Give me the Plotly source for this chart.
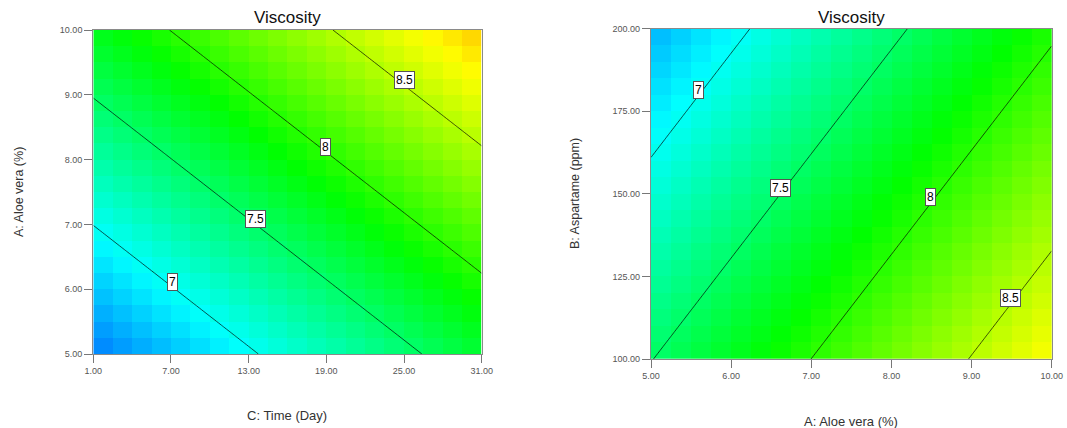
import numpy as np
import plotly.graph_objects as go

# Fitted viscosity model in coded factor units (-1 .. +1); the factor not shown
# on a panel is held at its centre point.
INTERCEPT = 7.725
COEF_ALOE = 0.636       # A: Aloe vera (%)
COEF_ASPARTAME = -0.403  # B: Aspartame (ppm)
COEF_TIME = 0.594       # C: Time (Day)

ALOE_RANGE = [5.0, 10.0]
ASPARTAME_RANGE = [100.0, 200.0]
TIME_RANGE = [1.0, 31.0]

CONTOUR_LEVELS = [7, 7.5, 8, 8.5]
# Where each level's label sits along the horizontal factor
LEFT_LABEL_TIME = [7.15, 13.5, 18.95, 25.0]
RIGHT_LABEL_ALOE = [5.59, 6.61, 8.49, 9.49]

TIME_TICKS = [1, 7, 13, 19, 25, 31]
ALOE_TICKS = [5, 6, 7, 8, 9, 10]
ASPARTAME_TICKS = [100, 125, 150, 175, 200]

GRID_CELLS = 20
COLOR_MIN, COLOR_MAX = 6.065, 9.652
COLORSCALE = [[0.0, "rgb(0,0,255)"], [0.25, "rgb(0,255,255)"],
              [0.5, "rgb(0,255,0)"], [0.75, "rgb(255,255,0)"],
              [1.0, "rgb(255,0,0)"]]

FONT = "Arial, Liberation Sans, sans-serif"


def coded(v, rng):
    lo, hi = rng
    return (np.asarray(v, dtype=float) - (lo + hi) / 2) / ((hi - lo) / 2)


def viscosity(aloe=None, aspartame=None, time=None):
    a = coded(aloe, ALOE_RANGE) if aloe is not None else 0.0
    b = coded(aspartame, ASPARTAME_RANGE) if aspartame is not None else 0.0
    c = coded(time, TIME_RANGE) if time is not None else 0.0
    return INTERCEPT + COEF_ALOE * a + COEF_ASPARTAME * b + COEF_TIME * c


def uncode(cv, rng):
    lo, hi = rng
    return (lo + hi) / 2 + cv * (hi - lo) / 2


def centres(rng, n):
    e = np.linspace(rng[0], rng[1], n + 1)
    return (e[:-1] + e[1:]) / 2


fig = go.Figure()

# ---- Left panel: Time (x) vs Aloe vera (y) ----
tc = centres(TIME_RANGE, GRID_CELLS)
ac = centres(ALOE_RANGE, GRID_CELLS)
TT, AA = np.meshgrid(tc, ac)
fig.add_trace(go.Heatmap(x=tc, y=ac, z=viscosity(aloe=AA, time=TT),
                         colorscale=COLORSCALE, zmin=COLOR_MIN, zmax=COLOR_MAX,
                         zsmooth=False, showscale=False, hoverinfo="skip",
                         xaxis="x", yaxis="y"))
tf = np.linspace(*TIME_RANGE, 61)
af = np.linspace(*ALOE_RANGE, 61)
TF, AF = np.meshgrid(tf, af)
fig.add_trace(go.Contour(x=tf, y=af, z=viscosity(aloe=AF, time=TF),
                         contours=dict(start=CONTOUR_LEVELS[0], end=CONTOUR_LEVELS[-1],
                                       size=0.5, coloring="none"),
                         line=dict(color="rgba(0,0,0,0.85)", width=0.8),
                         showscale=False, hoverinfo="skip", xaxis="x", yaxis="y"))

# ---- Right panel: Aloe vera (x) vs Aspartame (y) ----
ac2 = centres(ALOE_RANGE, GRID_CELLS)
bc = centres(ASPARTAME_RANGE, GRID_CELLS)
A2, B2 = np.meshgrid(ac2, bc)
fig.add_trace(go.Heatmap(x=ac2, y=bc, z=viscosity(aloe=A2, aspartame=B2),
                         colorscale=COLORSCALE, zmin=COLOR_MIN, zmax=COLOR_MAX,
                         zsmooth=False, showscale=False, hoverinfo="skip",
                         xaxis="x2", yaxis="y2"))
af2 = np.linspace(*ALOE_RANGE, 61)
bf = np.linspace(*ASPARTAME_RANGE, 61)
AF2, BF = np.meshgrid(af2, bf)
fig.add_trace(go.Contour(x=af2, y=bf, z=viscosity(aloe=AF2, aspartame=BF),
                         contours=dict(start=CONTOUR_LEVELS[0], end=CONTOUR_LEVELS[-1],
                                       size=0.5, coloring="none"),
                         line=dict(color="rgba(0,0,0,0.85)", width=0.8),
                         showscale=False, hoverinfo="skip", xaxis="x2", yaxis="y2"))

annotations = []


def level_label(level, x, y, xref, yref, lift):
    annotations.append(dict(x=x, y=y, xref=xref, yref=yref, text=f"{level:g}",
                            showarrow=False, bgcolor="white", bordercolor="#555",
                            borderwidth=1, borderpad=1, yshift=lift,
                            font=dict(family=FONT, size=12, color="black")))


# Label positions solved from the model so each box sits on its own line
for lvl, t in zip(CONTOUR_LEVELS, LEFT_LABEL_TIME):
    a_cod = (lvl - INTERCEPT - COEF_TIME * coded(t, TIME_RANGE)) / COEF_ALOE
    level_label(lvl, t, float(uncode(a_cod, ALOE_RANGE)), "x", "y", 5)
for lvl, a in zip(CONTOUR_LEVELS, RIGHT_LABEL_ALOE):
    b_cod = (lvl - INTERCEPT - COEF_ALOE * coded(a, ALOE_RANGE)) / COEF_ASPARTAME
    level_label(lvl, a, float(uncode(b_cod, ASPARTAME_RANGE)), "x2", "y2", 6)

W, H = 1067, 428
L_X = [93.3 / W, 481.7 / W]
L_Y = [1 - 354 / H, 1 - 30 / H]
R_X = [651 / W, 1051.7 / W]
R_Y = [1 - 359 / H, 1 - 28.7 / H]


def text(t, x, y, size, color="#222", angle=0):
    annotations.append(dict(x=x, y=y, xref="paper", yref="paper", text=t,
                            showarrow=False, textangle=angle,
                            xanchor="center", yanchor="middle",
                            font=dict(family=FONT, size=size, color=color)))


text("Viscosity", sum(L_X) / 2, 1 - 17 / H, 17, "#111")
text("Viscosity", sum(R_X) / 2, 1 - 17 / H, 17, "#111")
text("C: Time (Day)", sum(L_X) / 2, 1 - 415 / H, 13, "#333")
text("A: Aloe vera (%)", 19 / W, 1 - 192 / H, 12.5, "#333", -90)
text("B: Aspartame (ppm)", 575 / W, 1 - 194 / H, 12.5, "#333", -90)
text("A: Aloe vera (%)", sum(R_X) / 2, 1 - 421 / H, 13, "#333")

axis_common = dict(showline=True, linecolor="#8a8a8a", linewidth=1.2, mirror=True,
                   ticks="outside", ticklen=8, tickcolor="#777", tickwidth=1,
                   tickformat=".2f", showgrid=False, zeroline=False, automargin=False,
                   tickfont=dict(family=FONT, size=9, color="#555"))

fig.update_layout(
    width=W, height=H, margin=dict(l=0, r=0, t=0, b=0, autoexpand=False),
    paper_bgcolor="white", plot_bgcolor="white", showlegend=False,
    xaxis=dict(domain=L_X, range=TIME_RANGE, tickvals=TIME_TICKS, anchor="y", **axis_common),
    yaxis=dict(domain=L_Y, range=ALOE_RANGE, tickvals=ALOE_TICKS, anchor="x", **axis_common),
    xaxis2=dict(domain=R_X, range=ALOE_RANGE, tickvals=ALOE_TICKS, anchor="y2", **axis_common),
    yaxis2=dict(domain=R_Y, range=ASPARTAME_RANGE, tickvals=ASPARTAME_TICKS, anchor="x2", **axis_common),
    annotations=annotations,
)

fig.write_html("out.html")
